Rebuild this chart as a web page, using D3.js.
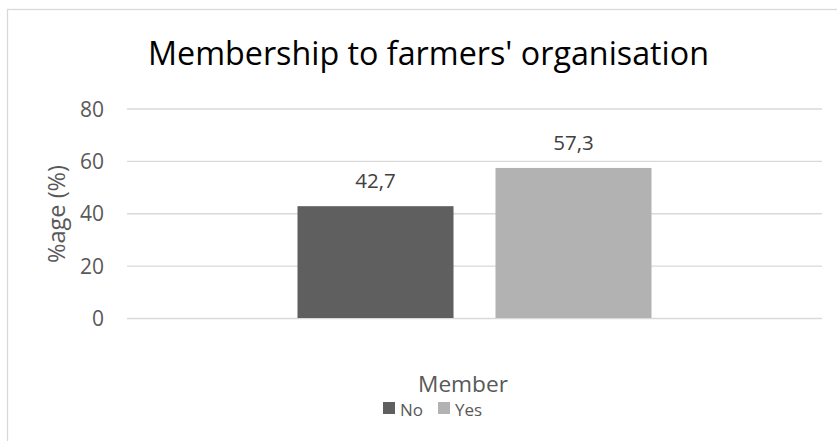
<!DOCTYPE html>
<html>
<head>
<meta charset="utf-8">
<script src="https://cdn.jsdelivr.net/npm/d3@7/dist/d3.min.js"></script>
<style>
  html, body { margin: 0; padding: 0; background: #fff; }
  svg { display: block; font-family: "Open Sans", "Noto Sans", sans-serif; }
</style>
</head>
<body>
<svg id="chart" width="837" height="441"></svg>
<script>
// Chart data
const categories = ["Member"];
const seriesNames = ["No", "Yes"];
const seriesValues = [42.7, 57.3];
const seriesColors = ["#5f5f5f", "#b2b2b2"];
const yTicks = [0, 20, 40, 60, 80];
const titleText = "Membership to farmers' organisation";
const yAxisTitle = "%age (%)";

const svg = d3.select("#chart");

// Scale a text node's font size so its rendered width equals `width`
function fitWidth(sel, width) {
  sel.each(function () {
    const fs = parseFloat(d3.select(this).attr("font-size"));
    const w = this.getComputedTextLength();
    if (w > 0) d3.select(this).attr("font-size", (fs * width / w).toFixed(2));
  });
}

// Plot area
const plot = { left: 127, right: 822, top: 108.5, bottom: 318 };

// Outer frame
svg.append("rect")
  .attr("x", 7.5).attr("y", 9.5)
  .attr("width", 860).attr("height", 460)
  .attr("fill", "#fff")
  .attr("stroke", "#d9d9d9").attr("stroke-width", 1.3);

const y = d3.scaleLinear().domain([0, 80]).range([plot.bottom, plot.top]);

const x0 = d3.scaleBand()
  .domain(categories)
  .range([plot.left, plot.right])
  .paddingInner(0)
  .paddingOuter(0.4816);

const x1 = d3.scaleBand()
  .domain(seriesNames)
  .range([0, x0.bandwidth()])
  .paddingInner(0.212)
  .paddingOuter(0);

const color = d3.scaleOrdinal().domain(seriesNames).range(seriesColors);

// Gridlines and tick labels via a left axis
const yAxis = d3.axisLeft(y)
  .tickValues(yTicks)
  .tickSize(-(plot.right - plot.left))
  .tickPadding(23)
  .tickFormat(d3.format("d"));

const gAxis = svg.append("g")
  .attr("transform", `translate(${plot.left},0)`)
  .call(yAxis);
gAxis.select(".domain").remove();
gAxis.selectAll(".tick line")
  .attr("stroke", "#d9d9d9").attr("stroke-width", 1.3);
gAxis.selectAll(".tick text")
  .attr("fill", "#595959")
  .attr("font-size", 21)
  .attr("dy", "0.36em")
  .attr("font-family", "'Open Sans', sans-serif");

// Bars
const rows = seriesNames.map((s, i) => ({ cat: categories[0], name: s, value: seriesValues[i] }));

const bars = svg.append("g");
bars.selectAll("rect")
  .data(rows)
  .join("rect")
  .attr("x", d => x0(d.cat) + x1(d.name))
  .attr("y", d => y(d.value))
  .attr("width", x1.bandwidth())
  .attr("height", d => y(0) - y(d.value))
  .attr("fill", d => color(d.name));

// Value labels (decimal comma)
const fmt = v => d3.format(".1f")(v).replace(".", ",");
bars.selectAll("text")
  .data(rows)
  .join("text")
  .attr("x", d => x0(d.cat) + x1(d.name) + x1.bandwidth() / 2)
  .attr("y", d => y(d.value) - 18)
  .attr("text-anchor", "middle")
  .attr("fill", "#404040")
  .attr("font-size", 20.5)
  .text(d => fmt(d.value));

// Title
svg.append("text")
  .attr("x", 428.5).attr("y", 65)
  .attr("text-anchor", "middle")
  .attr("fill", "#000")
  .attr("font-size", 32)
  .text(titleText)
  .call(fitWidth, 561);

// Y axis title
svg.append("text")
  .attr("transform", "translate(65,214) rotate(-90)")
  .attr("text-anchor", "middle")
  .attr("fill", "#595959")
  .attr("font-size", 22)
  .text(yAxisTitle)
  .call(fitWidth, 98);

// Legend
const legend = svg.append("g");
legend.append("text")
  .attr("x", 463).attr("y", 392)
  .attr("text-anchor", "middle")
  .attr("fill", "#595959")
  .attr("font-size", 20)
  .text(categories[0])
  .call(fitWidth, 90);

const legendX = [383, 438];
seriesNames.forEach((s, i) => {
  legend.append("rect")
    .attr("x", legendX[i]).attr("y", 402)
    .attr("width", 12).attr("height", 12)
    .attr("fill", color(s));
  legend.append("text")
    .attr("x", legendX[i] + 17).attr("y", 415.5)
    .attr("fill", "#595959")
    .attr("font-size", 17)
    .text(s);
});
</script>
</body>
</html>
